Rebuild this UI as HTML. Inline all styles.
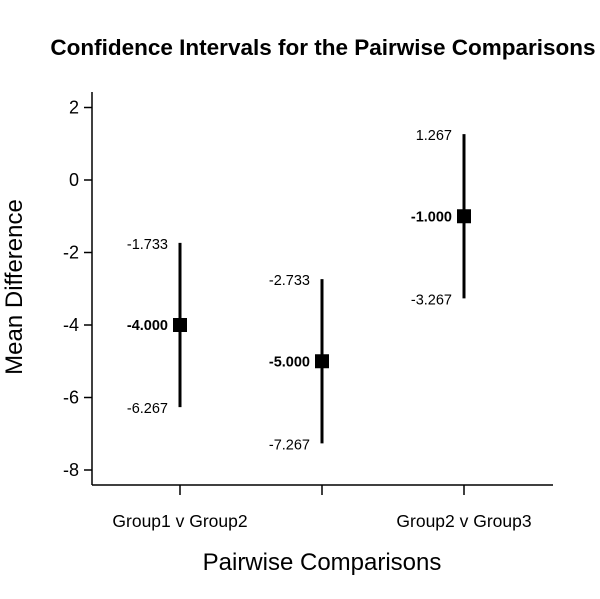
<!DOCTYPE html>
<html><head><meta charset="utf-8"><style>body{margin:0;background:#fff}svg{display:block;font-family:"Liberation Sans",sans-serif}</style></head>
<body>
<svg id="c" width="600" height="599">
<text x="323" y="55" text-anchor="middle" font-size="22.5" font-weight="bold">Confidence Intervals for the Pairwise Comparisons</text>
<text x="322" y="570" text-anchor="middle" font-size="24">Pairwise Comparisons</text>
<text transform="translate(22,287) rotate(-90)" text-anchor="middle" font-size="24">Mean Difference</text>
<line x1="92" y1="92" x2="92" y2="485" stroke="#000" stroke-width="1.5"/>
<line x1="92" y1="485" x2="553" y2="485" stroke="#000" stroke-width="1.5"/>
<g id="g"></g>
</svg>
<script>
const categories=["Group1 v Group2","Group1 v Group3","Group2 v Group3"];
const shownLabels=[true,false,true];
const means=[-4,-5,-1];
const lowers=[-6.267,-7.267,-3.267];
const uppers=[-1.733,-2.733,1.267];
const yTicks=[2,0,-2,-4,-6,-8];
const y=v=>180-v*36.25;
const x=i=>180+i*142;
const g=document.getElementById('g');
const NS='http://www.w3.org/2000/svg';
function mk(t,a,txt){const e=document.createElementNS(NS,t);for(const k in a)e.setAttribute(k,a[k]);if(txt!=null)e.textContent=txt;g.appendChild(e);return e;}
yTicks.forEach(v=>{
 let l=mk('line',{x1:84,x2:92,y1:y(v),y2:y(v),stroke:'#000','stroke-width':1.5});
 
 
 let t=mk('text',{x:79,y:y(v)+6,'text-anchor':'end','font-size':18},String(v));
 
 
});
categories.forEach((c,i)=>{
 const cx=x(i);
 let tk=mk('line',{x1:cx,x2:cx,y1:485,y2:495,stroke:'#000','stroke-width':1.5});
 
 
 if(shownLabels[i]){let t=mk('text',{x:cx,y:527,'text-anchor':'middle','font-size':17.5},c);
 
 }
 let l=mk('line',{x1:cx,x2:cx,y1:y(uppers[i]),y2:y(lowers[i]),stroke:'#000','stroke-width':3});
 
 
 let r=mk('rect',{x:cx-7,y:y(means[i])-7,width:14,height:14,fill:'#000'});
 
 
 let tu=mk('text',{x:cx-12,y:y(uppers[i])+6,'text-anchor':'end','font-size':14.5},uppers[i].toFixed(3));
 
 
 let tl=mk('text',{x:cx-12,y:y(lowers[i])+6,'text-anchor':'end','font-size':14.5},lowers[i].toFixed(3));
 
 
 let tm=mk('text',{x:cx-12,y:y(means[i])+5,'text-anchor':'end','font-size':14.5,'font-weight':'bold'},means[i].toFixed(3));
 
 
});
</script>
</body></html>
